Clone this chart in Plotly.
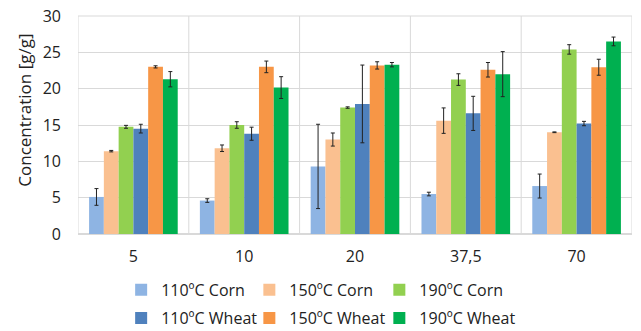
import plotly.graph_objects as go

categories = ["5", "10", "20", "37,5", "70"]

series_names = ["110ºC Corn", "150ºC Corn", "190ºC Corn",
                "110ºC Wheat", "150ºC Wheat", "190ºC Wheat"]
y_title = "Concentration [g/g]"

corn_110 = [5.1, 4.6, 9.3, 5.5, 6.6]
corn_110_err = [1.15, 0.25, 5.8, 0.25, 1.65]
corn_150 = [11.4, 11.8, 13.0, 15.6, 14.0]
corn_150_err = [0.1, 0.45, 0.9, 1.75, 0.05]
corn_190 = [14.75, 15.0, 17.4, 21.25, 25.4]
corn_190_err = [0.2, 0.45, 0.1, 0.8, 0.65]
wheat_110 = [14.5, 13.8, 17.9, 16.6, 15.2]
wheat_110_err = [0.6, 0.9, 5.35, 2.35, 0.3]
wheat_150 = [23.0, 23.0, 23.2, 22.6, 22.95]
wheat_150_err = [0.15, 0.8, 0.5, 1.0, 1.1]
wheat_190 = [21.3, 20.15, 23.3, 22.0, 26.5]
wheat_190_err = [1.05, 1.5, 0.3, 3.1, 0.6]

values = [corn_110, corn_150, corn_190, wheat_110, wheat_150, wheat_190]
errors = [corn_110_err, corn_150_err, corn_190_err,
          wheat_110_err, wheat_150_err, wheat_190_err]
colors = ["#8EB4E3", "#FAC090", "#92D050", "#4F81BD", "#F79646", "#00B050"]

# legend placement (container fractions): 3 columns x 2 rows
legend_x = [0.1890, 0.3890, 0.5918]
legend_y = [0.124, 0.039]

FONT = "Open Sans"

fig = go.Figure()
legend_layout = {}
for k, (name, v, e, c) in enumerate(zip(series_names, values, errors, colors)):
    lg = "legend" if k == 0 else f"legend{k + 1}"
    fig.add_trace(go.Bar(
        x=categories, y=v, name=name, marker_color=c, marker_line_width=0,
        error_y=dict(type="data", array=e, visible=True, color="#222222",
                     thickness=1, width=2),
        legend=lg,
    ))
    legend_layout[lg] = dict(
        xref="container", yref="container",
        x=legend_x[k % 3], y=legend_y[k // 3],
        xanchor="left", yanchor="middle",
        font=dict(size=16, color="#222222"),
        bgcolor="rgba(0,0,0,0)", itemclick=False, itemdoubleclick=False,
    )

for i in range(len(categories) + 1):
    fig.add_shape(type="line", xref="x", yref="paper", x0=i - 0.5, x1=i - 0.5,
                  y0=0, y1=1, line=dict(color="#D9D9D9", width=1), layer="below")
fig.add_shape(type="line", xref="paper", yref="paper", x0=0, x1=1, y0=1, y1=1,
              line=dict(color="#D9D9D9", width=1), layer="below")

fig.add_annotation(text=y_title, xref="paper", yref="paper", x=-0.0957, y=0.57,
                   xanchor="center", yanchor="middle", textangle=-90,
                   showarrow=False, font=dict(size=17, color="#222222"))

fig.update_layout(
    width=641, height=331,
    margin=dict(l=78, r=9, t=16, b=97, autoexpand=False),
    paper_bgcolor="white", plot_bgcolor="white",
    barmode="group", bargap=0.2, bargroupgap=0,
    font=dict(family=FONT, size=16, color="#222222"),
    xaxis=dict(type="category", showgrid=False, showline=False, ticks="",
               range=[-0.5, 4.5], automargin=False, ticklabelstandoff=11,
               tickfont=dict(size=16, color="#222222")),
    yaxis=dict(range=[0, 30], dtick=5, showgrid=True, gridcolor="#D9D9D9",
               gridwidth=1, zeroline=True, zerolinecolor="#D9D9D9",
               ticks="", automargin=False, ticklabelstandoff=16,
               tickfont=dict(size=16, color="#222222")),
    showlegend=True,
    **legend_layout,
)

fig.write_html("out.html", config={"displayModeBar": False},
               post_script="document.body.style.margin='0';")
